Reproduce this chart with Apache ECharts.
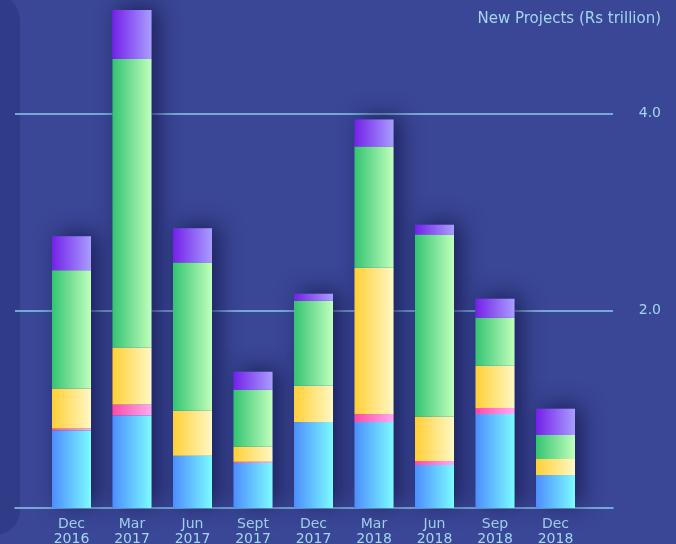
<!DOCTYPE html>
<html>
<head>
<meta charset="utf-8">
<script src="https://cdn.jsdelivr.net/npm/echarts@6/dist/echarts.min.js"></script>
<style>
html,body{margin:0;padding:0;background:#3a4796;}
#chart{width:676px;height:544px;}
</style>
</head>
<body>
<div id="chart"></div>
<script>
const categories = ['Dec\n2016','Mar\n2017','Jun\n2017','Sept\n2017','Dec\n2017','Mar\n2018','Jun\n2018','Sep\n2018','Dec\n2018'];
const blue   = [0.785, 0.937, 0.530, 0.457, 0.873, 0.873, 0.437, 0.954, 0.335];
const pink   = [0.020, 0.112, 0.000, 0.013, 0.000, 0.081, 0.040, 0.061, 0.000];
const yellow = [0.406, 0.579, 0.457, 0.150, 0.366, 1.482, 0.447, 0.426, 0.162];
const green  = [1.198, 2.924, 1.503, 0.579, 0.863, 1.228, 1.848, 0.487, 0.244];
const purple = [0.345, 0.497, 0.345, 0.183, 0.071, 0.274, 0.100, 0.193, 0.264];
const yTicks = [2.0, 4.0];

const totals = categories.map((_, i) => blue[i] + pink[i] + yellow[i] + green[i] + purple[i]);

const chart = echarts.init(document.getElementById('chart'));
const txt = '#a3d6ef';
const font = 'DejaVu Sans';
const yMax = 5.15;

function grad(a, b) {
  return new echarts.graphic.LinearGradient(0, 0, 1, 0, [{offset: 0, color: a}, {offset: 1, color: b}]);
}
function seg(name, data, c1, c2) {
  return {
    name, type: 'bar', stack: 'a', data, barWidth: 39,
    xAxisIndex: 1, yAxisIndex: 1, z: 3,
    itemStyle: {color: grad(c1, c2)},
    emphasis: {disabled: true}
  };
}

chart.setOption({
  backgroundColor: '#3a4796',
  animation: false,
  title: {
    text: 'New Projects (Rs trillion)', right: 10, top: 7,
    textStyle: {color: txt, fontSize: 15, fontWeight: 'normal', fontFamily: font}
  },
  graphic: [{
    type: 'rect', z: -10, silent: true,
    shape: {x: -40, y: -5, width: 60, height: 540, r: 25},
    style: {fill: '#313c88'}
  }],
  grid: [
    {left: 15, right: 63, top: 0, bottom: 36, outerBoundsMode: 'none', containLabel: false},
    {left: 41.25, right: 90.25, top: 0, bottom: 36, outerBoundsMode: 'none', containLabel: false}
  ],
  xAxis: [
    {type: 'category', gridIndex: 0, data: categories, show: true,
     axisLine: {show: true, lineStyle: {color: '#8fc8ee', width: 1.5}},
     axisTick: {show: false}, axisLabel: {show: false}, splitLine: {show: false}},
    {type: 'category', gridIndex: 1, data: categories,
     axisLine: {show: false}, axisTick: {show: false},
     axisLabel: {color: txt, fontSize: 14, fontFamily: font, lineHeight: 15, margin: 9, interval: 0}}
  ],
  yAxis: [
    {type: 'value', gridIndex: 0, min: 0, max: yMax, interval: 2, position: 'right',
     axisLine: {show: false}, axisTick: {show: false},
     axisLabel: {color: txt, fontSize: 14, fontFamily: font, align: 'right', margin: 48,
       showMinLabel: false, showMaxLabel: false, padding: [3, 0, 0, 0],
       formatter: v => yTicks.indexOf(v) >= 0 ? v.toFixed(1) : ''},
     splitLine: {show: true, showMinLine: false, showMaxLine: false,
       lineStyle: {color: '#8fc8ee', width: 1.5}}},
    {type: 'value', gridIndex: 1, min: 0, max: yMax, show: false, splitLine: {show: false}}
  ],
  series: [
    {name: 'shadow', type: 'bar', data: totals, barWidth: 39, barGap: '-100%',
     xAxisIndex: 1, yAxisIndex: 1, z: 2, silent: true,
     itemStyle: {color: '#3a4796', shadowColor: 'rgba(22,26,80,0.85)', shadowBlur: 22, shadowOffsetX: 7, shadowOffsetY: -3}},
    seg('Blue', blue, '#4d8dff', '#7cfbff'),
    seg('Pink', pink, '#ff4aa6', '#ffaaf2'),
    seg('Yellow', yellow, '#ffcf36', '#fff8c4'),
    seg('Green', green, '#33c472', '#c0ffbc'),
    seg('Purple', purple, '#7420e8', '#a99dff')
  ]
});
</script>
</body>
</html>
